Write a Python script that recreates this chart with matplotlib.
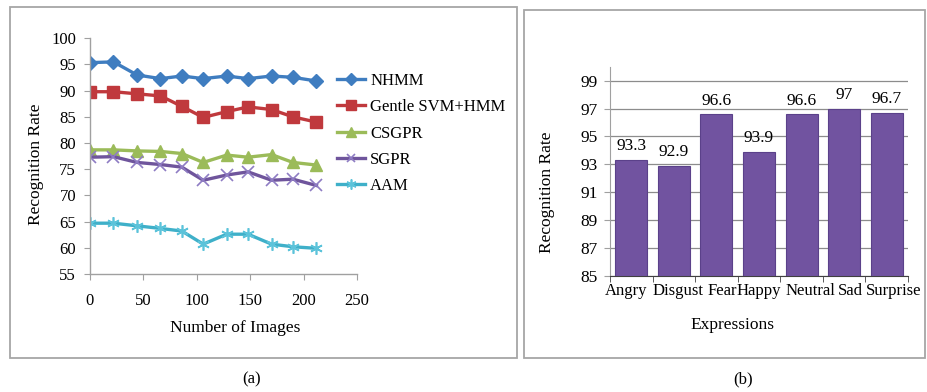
import matplotlib
matplotlib.use("Agg")
import matplotlib.pyplot as plt
from matplotlib.patches import Rectangle
import numpy as np

plt.rcParams['font.family'] = ['Liberation Serif', 'DejaVu Serif']

# ---- data (a) ----
num_images = [0, 22, 44, 66, 86, 106, 128, 148, 170, 190, 212]
nhmm = [95.35, 95.5, 93.0, 92.3, 92.8, 92.3, 92.8, 92.3, 92.8, 92.55, 91.85]
gentle = [89.8, 89.8, 89.4, 89.0, 87.0, 84.9, 86.0, 86.9, 86.4, 85.0, 84.0]
csgpr = [78.7, 78.7, 78.5, 78.4, 78.0, 76.3, 77.7, 77.3, 77.8, 76.3, 75.8]
sgpr = [77.3, 77.4, 76.3, 75.9, 75.4, 72.9, 73.9, 74.5, 72.9, 73.1, 71.9]
aam = [64.7, 64.7, 64.2, 63.7, 63.2, 60.7, 62.6, 62.6, 60.7, 60.2, 59.9]
series_names = ['NHMM', 'Gentle SVM+HMM', 'CSGPR', 'SGPR', 'AAM']
x_ticks_a = [0, 50, 100, 150, 200, 250]
y_ticks_a = [55, 60, 65, 70, 75, 80, 85, 90, 95, 100]

# ---- data (b) ----
expressions = ['Angry', 'Disgust', 'Fear', 'Happy', 'Neutral', 'Sad', 'Surprise']
rates = [93.3, 92.9, 96.6, 93.9, 96.6, 97.0, 96.7]
rate_labels = ['93.3', '92.9', '96.6', '93.9', '96.6', '97', '96.7']
y_ticks_b = [85, 87, 89, 91, 93, 95, 97, 99]
# horizontal nudge (points) of category labels, as laid out in the original
label_nudge = [-3.5, 3.2, 4.3, 0.0, 6.5, 4.3, 5.0]

W, H = 928, 392
fig = plt.figure(figsize=(W / 100, H / 100), dpi=100)

def fx(px):
    return px / W

def fy(py):
    return 1 - py / H

# frames
for (x0, y0, x1, y1) in [(10, 7, 517, 358), (524, 10, 925, 358)]:
    fig.patches.append(Rectangle((fx(x0), fy(y1)), fx(x1) - fx(x0), fy(y0) - fy(y1),
                                 transform=fig.transFigure, fill=False,
                                 edgecolor='#a6a6a6', linewidth=1.3))

# ---------------- panel (a) ----------------
axa = fig.add_axes([fx(90), fy(274), fx(357) - fx(90), fy(38.3) - fy(274)])
styles = [
    dict(color='#3f7dc0', marker='D', markersize=7.5),
    dict(color='#c0393d', marker='s', markersize=9),
    dict(color='#9bbb59', marker='^', markersize=8.5),
    dict(color='#6f559c', marker='x', markersize=8, markeredgecolor='#8e7cc3', markeredgewidth=1.2),
    dict(color='#3fb0c9', marker=(6, 2, 0), markersize=9, markeredgecolor='#5cc3da', markeredgewidth=1.2),
]
for vals, name, st in zip([nhmm, gentle, csgpr, sgpr, aam], series_names, styles):
    axa.plot(num_images, vals, linewidth=2.4, label=name, **st)

axa.set_xlim(0, 250)
axa.set_ylim(55, 100)
axa.set_xticks(x_ticks_a)
axa.set_yticks(y_ticks_a)
for s in ['top', 'right']:
    axa.spines[s].set_visible(False)
for s in ['left', 'bottom']:
    axa.spines[s].set_color('#a0a0a0')
    axa.spines[s].set_linewidth(1.0)
axa.tick_params(axis='x', direction='out', length=4, color='#a0a0a0', pad=10, labelsize=12)
axa.tick_params(axis='y', direction='out', length=4, color='#a0a0a0', pad=6, labelsize=12)

leg = axa.legend(loc='upper left', bbox_to_anchor=(fx(337), fy(73)),
                 bbox_transform=fig.transFigure, frameon=False, fontsize=12,
                 handlelength=1.7, handletextpad=0.3, labelspacing=0.62,
                 borderpad=0, borderaxespad=0, markerscale=0.8)

fig.text(fx(36), fy(164), 'Recognition Rate', rotation=90, ha='center', va='center', fontsize=12.5)
fig.text(fx(235), fy(328), 'Number of Images', ha='center', va='center', fontsize=12.5)
fig.text(fx(252), fy(379), '(a)', ha='center', va='center', fontsize=12)

# ---------------- panel (b) ----------------
axb = fig.add_axes([fx(610), fy(275.7), fx(908) - fx(610), fy(66.7) - fy(275.7)])
xpos = np.arange(len(expressions))
bars = axb.bar(xpos, [r - 85 for r in rates], bottom=85, width=0.75, color='#7153a0',
               edgecolor='#5b418a', linewidth=0.8, zorder=3)
for xp, r, lab in zip(xpos, rates, rate_labels):
    axb.annotate(lab, (xp, r), xytext=(0, 4), textcoords='offset points',
                 ha='center', va='bottom', fontsize=12.5, zorder=4)
axb.set_xlim(-0.5, len(expressions) - 0.5)
axb.set_ylim(85, 100)
axb.set_yticks(y_ticks_b)
axb.set_xticks(xpos)
axb.set_xticklabels([])
for xp, name, dx in zip(xpos, expressions, label_nudge):
    axb.annotate(name, (xp, 85), xytext=(dx, -5), textcoords='offset points',
                 ha='center', va='top', fontsize=12, annotation_clip=False)
axb.set_xticks(np.arange(len(expressions) + 1) - 0.5, minor=True)
axb.grid(axis='y', color='#8c8c8c', linewidth=0.9, zorder=0)
axb.set_axisbelow(True)
for s in ['top', 'right']:
    axb.spines[s].set_visible(False)
axb.spines['left'].set_color('#a0a0a0')
axb.spines['bottom'].set_color('#404040')
axb.tick_params(axis='x', which='major', length=0)
axb.tick_params(axis='x', which='minor', length=4, direction='out', color='#404040')
axb.tick_params(axis='y', direction='out', length=4, color='#a0a0a0', pad=5, labelsize=12.5)

fig.text(fx(547), fy(192), 'Recognition Rate', rotation=90, ha='center', va='center', fontsize=12.5)
fig.text(fx(732), fy(325), 'Expressions', ha='center', va='center', fontsize=12.5)
fig.text(fx(743), fy(379), '(b)', ha='center', va='center', fontsize=12)

fig.savefig('out.png', dpi=100)
